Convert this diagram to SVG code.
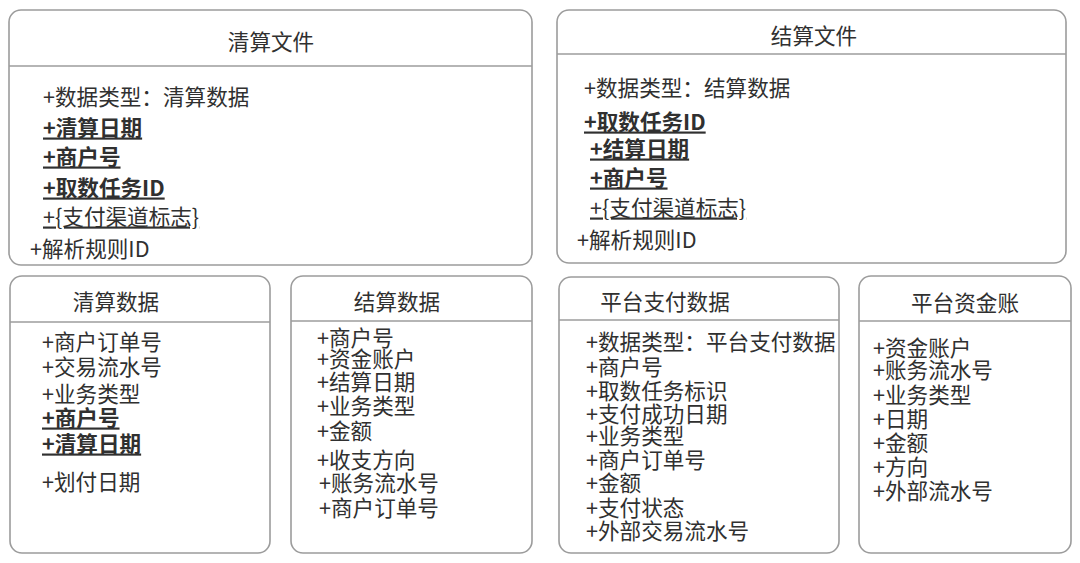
<svg xmlns="http://www.w3.org/2000/svg" width="1080" height="563" viewBox="0 0 1080 563">
<style>
.box{fill:#ffffff;stroke:#9c9c9c;stroke-width:1.6}
.div{stroke:#9c9c9c;stroke-width:1.6}
text{font-family:"Noto Sans CJK SC","Noto Sans",sans-serif;font-size:21.6px;fill:#303030;dominant-baseline:central}
.t{text-anchor:middle}
.b{font-weight:bold;text-decoration:underline}
.u{text-decoration:underline}
</style>
<rect width="1080" height="563" fill="#ffffff"/>
<g id="qingsuan-file">
<rect class="box" x="9" y="10" width="523" height="255" rx="12"/>
<line class="div" x1="9" y1="66" x2="532" y2="66"/>
<text class="t" x="271" y="40">清算文件</text>
<text x="43" y="95">+数据类型：清算数据</text>
<text class="b" x="43" y="126">+清算日期</text>
<text class="b" x="43" y="155">+商户号</text>
<text class="b" x="43" y="186">+取数任务ID</text>
<text class="u" x="43" y="215">+{支付渠道标志}</text>
<text x="30" y="247">+解析规则ID</text>
</g>
<g id="jiesuan-file">
<rect class="box" x="557" y="10" width="509" height="253" rx="12"/>
<line class="div" x1="557" y1="54" x2="1066" y2="54"/>
<text class="t" x="814" y="34">结算文件</text>
<text x="584" y="86">+数据类型：结算数据</text>
<text class="b" x="584" y="120">+取数任务ID</text>
<text class="b" x="590" y="147">+结算日期</text>
<text class="b" x="590" y="176">+商户号</text>
<text class="u" x="590" y="206">+{支付渠道标志}</text>
<text x="577" y="238">+解析规则ID</text>
</g>
<g id="qingsuan-data">
<rect class="box" x="10" y="276" width="260" height="277" rx="12"/>
<line class="div" x1="10" y1="322" x2="270" y2="322"/>
<text class="t" x="116" y="300">清算数据</text>
<text x="42" y="340">+商户订单号</text>
<text x="42" y="365">+交易流水号</text>
<text x="42" y="392">+业务类型</text>
<text class="b" x="42" y="416">+商户号</text>
<text class="b" x="42" y="442">+清算日期</text>
<text x="42" y="480">+划付日期</text>
</g>
<g id="jiesuan-data">
<rect class="box" x="291" y="276" width="241" height="277" rx="12"/>
<line class="div" x1="291" y1="321" x2="532" y2="321"/>
<text class="t" x="397" y="300">结算数据</text>
<text x="317" y="336">+商户号</text>
<text x="317" y="357">+资金账户</text>
<text x="317" y="380">+结算日期</text>
<text x="317" y="404">+业务类型</text>
<text x="317" y="429">+金额</text>
<text x="317" y="458">+收支方向</text>
<text x="319" y="481">+账务流水号</text>
<text x="319" y="506">+商户订单号</text>
</g>
<g id="platform-pay-data">
<rect class="box" x="559" y="277" width="280" height="276" rx="12"/>
<line class="div" x1="559" y1="320" x2="839" y2="320"/>
<text class="t" x="665" y="300">平台支付数据</text>
<text x="586" y="340">+数据类型：平台支付数据</text>
<text x="586" y="365">+商户号</text>
<text x="586" y="389">+取数任务标识</text>
<text x="586" y="412">+支付成功日期</text>
<text x="586" y="434">+业务类型</text>
<text x="586" y="458">+商户订单号</text>
<text x="586" y="481">+金额</text>
<text x="586" y="506">+支付状态</text>
<text x="586" y="529">+外部交易流水号</text>
</g>
<g id="platform-fund-account">
<rect class="box" x="859" y="276" width="212" height="277" rx="12"/>
<line class="div" x1="859" y1="321" x2="1071" y2="321"/>
<text class="t" x="965" y="301">平台资金账</text>
<text x="873" y="346">+资金账户</text>
<text x="873" y="368">+账务流水号</text>
<text x="873" y="393">+业务类型</text>
<text x="873" y="417">+日期</text>
<text x="873" y="441">+金额</text>
<text x="873" y="465">+方向</text>
<text x="873" y="489">+外部流水号</text>
</g>
</svg>
